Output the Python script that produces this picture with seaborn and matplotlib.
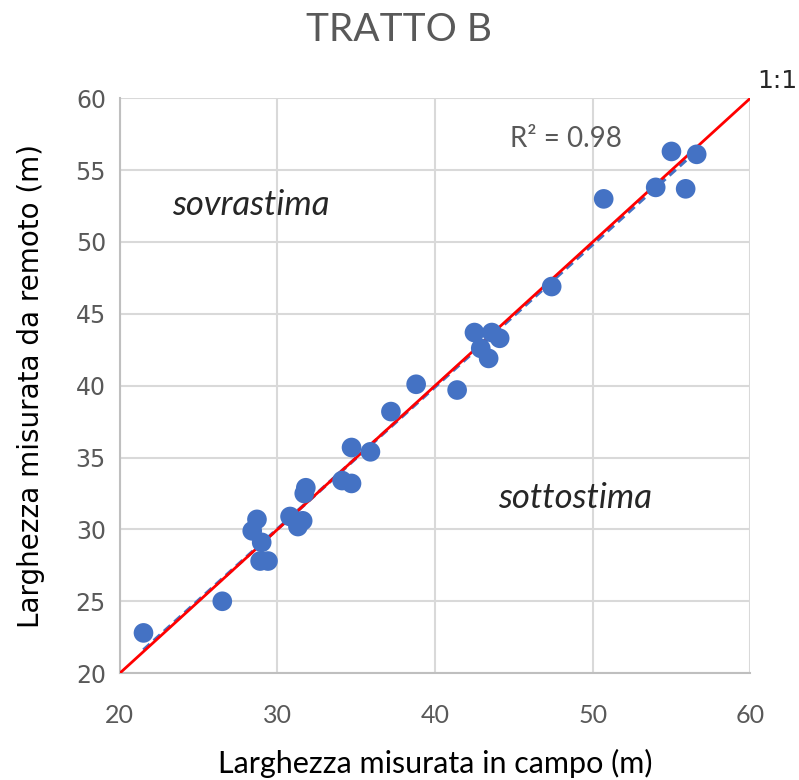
import numpy as np
import pandas as pd
import matplotlib.pyplot as plt
import seaborn as sns

# field width (x) vs remote-sensed width (y), metres
campo = [21.5, 26.5, 28.4, 28.7, 29.0, 28.9, 29.4, 30.8, 31.3, 31.6,
         31.7, 31.8, 34.1, 34.7, 34.7, 35.9, 37.2, 38.8, 41.4, 42.5,
         42.9, 43.4, 43.6, 44.1, 47.4, 50.7, 54.0, 55.9, 55.0, 56.6]
remoto = [22.8, 25.0, 29.9, 30.7, 29.1, 27.8, 27.8, 30.9, 30.2, 30.6,
          32.5, 32.9, 33.4, 33.2, 35.7, 35.4, 38.2, 40.1, 39.7, 43.7,
          42.6, 41.9, 43.7, 43.3, 46.9, 53.0, 53.8, 53.7, 56.3, 56.1]
x_ticks = [20, 30, 40, 50, 60]
y_ticks = [20, 25, 30, 35, 40, 45, 50, 55, 60]

df = pd.DataFrame({"campo": campo, "remoto": remoto})
r2 = np.corrcoef(campo, remoto)[0, 1] ** 2

sns.set_style("white")
plt.rcParams["font.family"] = ["Lato", "DejaVu Sans"]

fig = plt.figure(figsize=(7.99, 7.80), dpi=100)
ax = fig.add_axes([0.150, 0.137, 0.789, 0.737])

blue = "#4472C4"
grey = "#595959"

# 1:1 line
ax.plot([20, 60], [20, 60], color="#FF0000", lw=2, zorder=4)

# linear trend (dashed)
sns.regplot(data=df, x="campo", y="remoto", scatter=False, ci=None, ax=ax,
            truncate=True,
            line_kws=dict(color=blue, lw=2.5, ls=(0, (2.5, 1.5)), zorder=3))

sns.scatterplot(data=df, x="campo", y="remoto", ax=ax, s=200, color=blue,
                edgecolor="none", zorder=5)

ax.set_xlim(20, 60)
ax.set_ylim(20, 60)
ax.set_xticks(x_ticks)
ax.set_yticks(y_ticks)
ax.grid(True, color="#D9D9D9", lw=1.5)
ax.set_axisbelow(True)
for side in ["top", "right"]:
    ax.spines[side].set_visible(False)
for side in ["left", "bottom"]:
    ax.spines[side].set_color("#BFBFBF")
    ax.spines[side].set_linewidth(1.5)
ax.tick_params(length=0, pad=10, labelcolor=grey)
ax.tick_params(axis="x", pad=22)
for lab in ax.get_xticklabels():
    lab.set_fontsize(18)
for lab in ax.get_yticklabels():
    lab.set_fontsize(17)
    lab.set_family("DejaVu Sans")

ax.set_xlabel("Larghezza misurata in campo (m)", fontsize=22, color="#000000", labelpad=16)
ax.set_ylabel("Larghezza misurata da remoto (m)", fontsize=20, color="#000000",
              family="DejaVu Sans", labelpad=22)

fig.text(0.5, 0.962, "TRATTO B", ha="center", va="center", fontsize=28, color=grey)
ax.text(48.3, 57.2, f"R² = {r2:.2f}", fontsize=20, color=grey, ha="center", va="center")
ax.text(28.3, 52.6, "sovrastima", fontsize=25, style="italic", ha="center", va="center")
ax.text(48.9, 32.2, "sottostima", fontsize=25, style="italic", ha="center", va="center")
ax.text(61.7, 61.2, "1:1", fontsize=18, ha="center", va="center", clip_on=False,
        family="DejaVu Sans")

fig.savefig("out.png", dpi=100)
